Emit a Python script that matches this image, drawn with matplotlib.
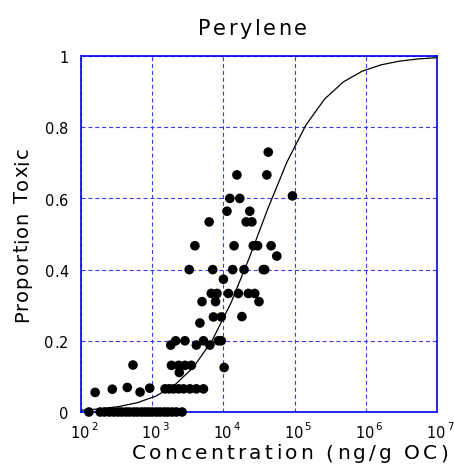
import numpy as np
import matplotlib
matplotlib.use("Agg")
from matplotlib import pyplot as plt
from matplotlib.font_manager import FontProperties
from matplotlib.transforms import IdentityTransform
from matplotlib.ticker import FixedLocator, NullLocator

plt.rcParams['font.family'] = ['DejaVu Sans']

# sediment concentrations (ng/g OC) and proportion of toxic samples
conc_zero = [129, 186, 214, 251, 288, 331, 372, 427, 479, 550, 617, 708,
             794, 891, 1000, 1148, 1288, 1479, 1660, 1905, 2188, 2630]
prop_zero = [0.0] * len(conc_zero)

conc_low = [158, 275, 447, 676, 923, 537,
            1514, 1738, 1995, 2344, 2754, 3388, 4169, 5248,
            1862, 2344, 2884, 3548, 2399, 10233]
prop_low = [0.055, 0.064, 0.069, 0.056, 0.067, 0.132,
            0.065, 0.065, 0.065, 0.065, 0.065, 0.065, 0.065, 0.065,
            0.131, 0.131, 0.131, 0.131, 0.111, 0.125]

conc_mid = [1820, 2138, 2884, 4169, 5248, 6457, 8511, 9333,
            4677, 7244, 9333, 18197, 5012, 7762, 31623,
            6761, 8128, 11749, 16218, 22387, 27542, 10000]
prop_mid = [0.188, 0.2, 0.2, 0.188, 0.2, 0.188, 0.2, 0.2,
            0.25, 0.267, 0.267, 0.268, 0.31, 0.31, 0.31,
            0.333, 0.333, 0.333, 0.333, 0.333, 0.333, 0.373]

conc_high = [3311, 7079, 13490, 19498, 36308, 38019, 56234,
             3981, 14125, 26303, 30200, 46774,
             6310, 20893, 25119, 11220, 23442, 12303, 16982, 93325,
             15488, 40738, 42658]
prop_high = [0.4, 0.4, 0.4, 0.4, 0.4, 0.4, 0.438,
             0.467, 0.467, 0.467, 0.467, 0.467,
             0.534, 0.534, 0.534, 0.564, 0.564, 0.6, 0.6, 0.607,
             0.666, 0.666, 0.73]

conc = conc_zero + conc_low + conc_mid + conc_high
prop = prop_zero + prop_low + prop_mid + prop_high

# logistic model parameters (log10 concentration)
t50 = 4.49
slope = 2.13

x_exps = [2, 3, 4, 5, 6, 7]
y_ticks = [0, 0.2, 0.4, 0.6, 0.8, 1.0]
y_labels = ['0', '0.2', '0.4', '0.6', '0.8', '1']

blue = '#0000f0'
grid_blue = '#3a3ae6'

W, H = 454, 466
fig = plt.figure(figsize=(W / 100, H / 100), dpi=100)
ax = fig.add_axes([81 / W, 1 - 412 / H, 356 / W, 356 / H])
renderer = fig.canvas.get_renderer()


def spaced_text(x, y, s, size, track, ha='center', rotation=0):
    # draw s letter by letter with extra spacing (pixels, y measured from the top)
    fp = FontProperties(family='DejaVu Sans', size=size)
    bar = renderer.get_text_width_height_descent('|', fp, ismath=False)[0]
    adv = [renderer.get_text_width_height_descent(ch + '|', fp, ismath=False)[0] - bar
           for ch in s]
    offs = np.concatenate([[0], np.cumsum(adv)[:-1]]) + track * np.arange(len(s))
    last = renderer.get_text_width_height_descent(s[-1], fp, ismath=False)[0]
    total = offs[-1] + last
    start = {'left': 0, 'center': total / 2, 'right': total}[ha]
    for ch, o in zip(s, offs):
        if ch == ' ':
            continue
        d = o - start
        if rotation == 90:
            px, py = x, H - y + d
        else:
            px, py = x + d, H - y
        fig.text(px, py, ch, fontproperties=fp, transform=IdentityTransform(),
                 ha='left', va='baseline', rotation=rotation, rotation_mode='anchor')


xm = np.logspace(2, 7, 20)
ym = 1.0 / (1.0 + np.exp(-slope * (np.log10(xm) - t50)))
ax.plot(xm, ym, color='black', lw=0.9, zorder=3)

ax.scatter(conc, prop, s=48, color='black', edgecolors='none', zorder=4, clip_on=False)

ax.set_xscale('log')
ax.set_xlim(1e2, 1e7)
ax.set_ylim(0, 1)
ax.xaxis.set_major_locator(FixedLocator([10.0 ** e for e in x_exps]))
ax.xaxis.set_minor_locator(NullLocator())
ax.yaxis.set_major_locator(FixedLocator(y_ticks))

ax.grid(True, color=grid_blue, linestyle=(0, (3.6, 2.6)), linewidth=0.8)
for s in ax.spines.values():
    s.set_color(blue)
    s.set_linewidth(1.2)
ax.tick_params(axis='both', which='both', length=0, labelbottom=False, labelleft=False)

# tick labels
for v, lab in zip(y_ticks, y_labels):
    ty = 412 - v * 356
    spaced_text(68.3, ty + 7.3, lab, 10.5, 0.2, ha='right')
for e in x_exps:
    tx = 81 + (e - 2) * 356 / 5
    spaced_text(tx - 1, 438.3, '10', 10.5, 0, ha='center')
    spaced_text(tx + 9.8, 429.5, str(e), 7.3, 0, ha='left')

# title and axis labels
spaced_text(252.5, 35, 'Perylene', 15, 2.6)
spaced_text(290, 459, 'Concentration (ng/g OC)', 14.5, 3.2)
spaced_text(27.7, 235, 'Proportion Toxic', 14, 1.0, rotation=90)

fig.savefig('out.png', dpi=100)
